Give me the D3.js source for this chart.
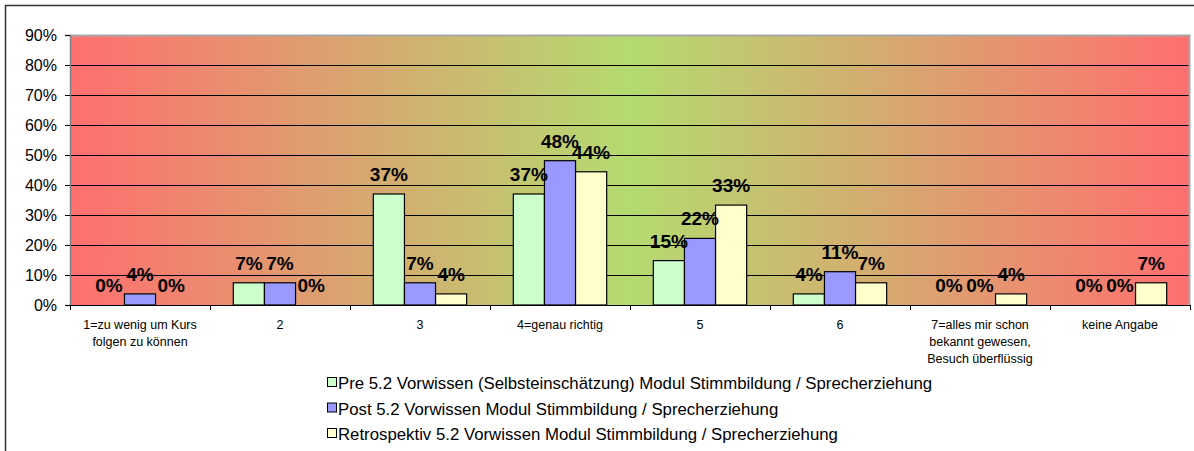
<!DOCTYPE html>
<html>
<head>
<meta charset="utf-8">
<script src="https://cdn.jsdelivr.net/npm/d3@7"></script>
<style>
  body { margin: 0; background: #fff; }
  svg { display: block; font-family: Arial, "Liberation Sans", sans-serif; }
</style>
</head>
<body>
<svg id="chart" width="1194" height="451"></svg>
<script>
// categories and series (values as fractions)
const categories = [
    ["1=zu wenig um Kurs", "folgen zu können"],
    ["2"],
    ["3"],
    ["4=genau richtig"],
    ["5"],
    ["6"],
    ["7=alles mir schon", "bekannt gewesen,", "Besuch überflüssig"],
    ["keine Angabe"]
];
const seriesNames = [
    "Pre 5.2 Vorwissen (Selbsteinschätzung) Modul Stimmbildung / Sprecherziehung",
    "Post 5.2 Vorwissen Modul Stimmbildung / Sprecherziehung",
    "Retrospektiv 5.2 Vorwissen Modul Stimmbildung / Sprecherziehung"
];
const preValues = [0, 0.074, 0.370, 0.370, 0.148, 0.037, 0, 0];
const postValues = [0.037, 0.074, 0.074, 0.481, 0.222, 0.111, 0, 0];
const retroValues = [0, 0, 0.037, 0.444, 0.333, 0.074, 0.037, 0.074];
const yTicks = [0, 0.1, 0.2, 0.3, 0.4, 0.5, 0.6, 0.7, 0.8, 0.9];
const seriesColors = ["#CCFFCC", "#9999FF", "#FFFFCC"];

const margin = {top: 35, right: 4, bottom: 146, left: 70},
    width = 1194 - margin.left - margin.right,
    height = 451 - margin.top - margin.bottom;

const svg = d3.select("#chart");

// outer chart frame
svg.append("rect")
    .attr("x", 5.5).attr("y", 5.5)
    .attr("width", 1200).attr("height", 460)
    .attr("fill", "none")
    .attr("stroke", "#333")
    .attr("stroke-width", 1.5);

// background gradient red -> green -> red
const grad = svg.append("defs").append("linearGradient")
    .attr("id", "bg").attr("x1", "0%").attr("x2", "100%");
grad.append("stop").attr("offset", "0%").attr("stop-color", "#FF6F6F");
grad.append("stop").attr("offset", "50%").attr("stop-color", "#B4DB70");
grad.append("stop").attr("offset", "100%").attr("stop-color", "#FF6F6F");

const g = svg.append("g")
    .attr("transform", "translate(" + margin.left + "," + margin.top + ")");

const x = d3.scaleBand()
    .domain(d3.range(categories.length))
    .range([0, width]);

const y = d3.scaleLinear()
    .domain([0, 0.9])
    .range([height, 0]);

const xSub = d3.scaleBand()
    .domain([0, 1, 2])
    .range([0, x.bandwidth()])
    .paddingInner(0)
    .paddingOuter(0.75);

g.append("rect")
    .attr("width", width).attr("height", height)
    .attr("fill", "url(#bg)");

// gridlines
g.selectAll(".grid")
    .data(yTicks.slice(1, -1))
    .enter().append("line")
    .attr("x1", 0).attr("x2", width)
    .attr("y1", d => Math.round(y(d)) + 0.5)
    .attr("y2", d => Math.round(y(d)) + 0.5)
    .attr("stroke", "#000");

// plot border top/right
g.append("path")
    .attr("d", `M0,0.5H${width - 0.5}V${height}`)
    .attr("fill", "none")
    .attr("stroke", "#A8A8A8")
    .attr("stroke-width", 2);

// y axis
const yAxis = g.append("g")
    .call(d3.axisLeft(y).tickValues(yTicks).tickFormat(d3.format(".0%")).tickSize(5).tickPadding(8));
yAxis.select(".domain").attr("stroke", "#808080").attr("stroke-width", 1.5);
yAxis.selectAll(".tick line").attr("stroke", "#000");
yAxis.selectAll("text").attr("font-size", 16).attr("fill", "#000")
    .attr("font-family", "Arial, 'Liberation Sans', sans-serif");

// bars
const allSeries = [preValues, postValues, retroValues];
const barData = [];
categories.forEach((c, i) => {
    allSeries.forEach((vals, s) => barData.push({cat: i, s: s, v: vals[i]}));
});

g.selectAll(".bar")
    .data(barData.filter(d => d.v > 0))
    .enter().append("rect")
    .attr("class", "bar")
    .attr("x", d => x(d.cat) + xSub(d.s))
    .attr("y", d => y(d.v))
    .attr("width", xSub.bandwidth())
    .attr("height", d => height - y(d.v))
    .attr("fill", d => seriesColors[d.s])
    .attr("stroke", "#000")
    .attr("stroke-width", 1.2);

// value labels
g.selectAll(".lbl")
    .data(barData)
    .enter().append("text")
    .attr("x", d => x(d.cat) + xSub(d.s) + xSub.bandwidth() / 2)
    .attr("y", d => y(d.v) - 13)
    .attr("text-anchor", "middle")
    .attr("font-size", 19)
    .attr("font-weight", "bold")
    .text(d => d3.format(".0%")(d.v));

// x axis line and boundary ticks
g.append("line")
    .attr("x1", 0).attr("x2", width)
    .attr("y1", height + 0.5).attr("y2", height + 0.5)
    .attr("stroke", "#000");
g.selectAll(".xtick")
    .data(d3.range(categories.length + 1))
    .enter().append("line")
    .attr("x1", d => d * x.step() + 0.5).attr("x2", d => d * x.step() + 0.5)
    .attr("y1", height).attr("y2", height + 5)
    .attr("stroke", "#000");

// category labels
const catText = g.selectAll(".cat")
    .data(categories)
    .enter().append("text")
    .attr("x", (d, i) => x(i) + x.bandwidth() / 2)
    .attr("y", height + 24)
    .attr("text-anchor", "middle")
    .attr("font-size", 12.5);
catText.selectAll("tspan")
    .data(d => d)
    .enter().append("tspan")
    .attr("x", function () { return d3.select(this.parentNode).attr("x"); })
    .attr("dy", (d, i) => i === 0 ? 0 : 17)
    .text(d => d);

// legend
const legend = svg.append("g")
    .attr("transform", "translate(327,383)");
seriesNames.forEach((name, i) => {
    const row = legend.append("g").attr("transform", "translate(0," + (i * 25.5) + ")");
    row.append("rect")
        .attr("x", 0.5).attr("y", -5.5)
        .attr("width", 9).attr("height", 9)
        .attr("fill", seriesColors[i])
        .attr("stroke", "#000");
    row.append("text")
        .attr("x", 11)
        .attr("y", 6)
        .attr("font-size", 16.8)
        .text(name);
});
</script>
</body>
</html>
